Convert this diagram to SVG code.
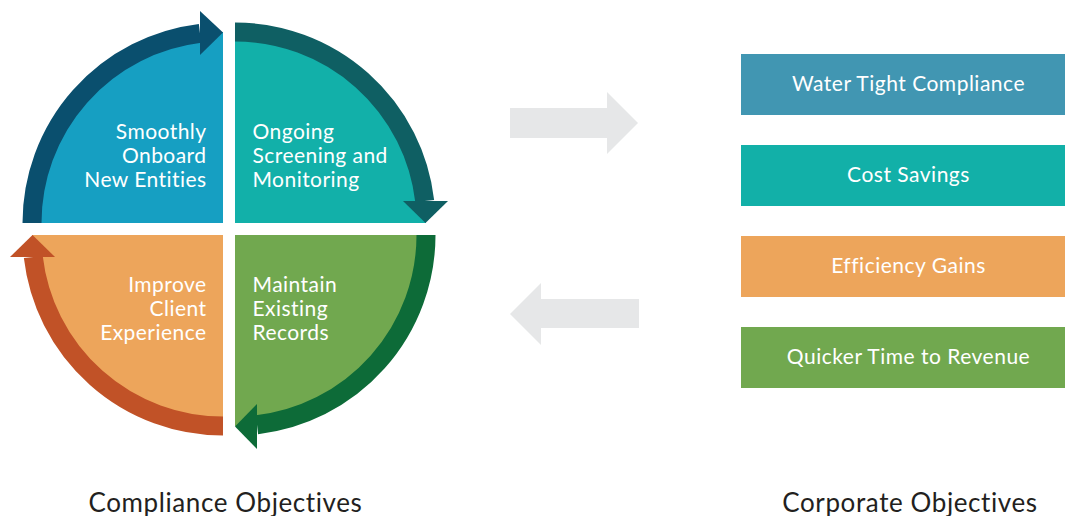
<svg xmlns="http://www.w3.org/2000/svg" width="1065" height="516" viewBox="0 0 1065 516">
<style>
.band{fill:none;stroke-width:19;stroke-linecap:butt}
.qt{font-family:Lato,"Liberation Sans",sans-serif;font-size:21px;letter-spacing:0.45px;fill:#fff}
.bt{font-family:Lato,"Liberation Sans",sans-serif;font-size:21px;letter-spacing:0.5px;fill:#fff;text-anchor:middle}
.cap{font-family:Lato,"Liberation Sans",sans-serif;font-size:26px;letter-spacing:0.6px;fill:#231F20;text-anchor:middle}
.gray{fill:#E6E7E8}
</style>
<rect width="1065" height="516" fill="#fff"/>
<g id="q-onboard">
<path d="M223,223 L32,223 A191,191 0 0 1 223,32 Z" fill="#169FC2"/>
<path class="band" stroke="#0A4F6E" d="M32,223 A191,191 0 0 1 200,33.4"/>
<polygon fill="#0A4F6E" points="200,11 223,32.5 200,55"/>
<text class="qt" text-anchor="end"><tspan x="206.5" y="138.5">Smoothly</tspan><tspan x="206.5" y="162.5">Onboard</tspan><tspan x="206.5" y="186.5">New Entities</tspan></text>
</g>
<g id="q-screening">
<path d="M235,223 L235,32 A191,191 0 0 1 426,223 Z" fill="#12B0A9"/>
<path class="band" stroke="#0F5F63" d="M235,32 A191,191 0 0 1 424.7,201"/>
<polygon fill="#0F5F63" points="403,201 448,201 425.5,223"/>
<text class="qt"><tspan x="252.5" y="138.5">Ongoing</tspan><tspan x="252.5" y="162.5">Screening and</tspan><tspan x="252.5" y="186.5">Monitoring</tspan></text>
</g>
<g id="q-maintain">
<path d="M235,235 L426,235 A191,191 0 0 1 235,426 Z" fill="#71A84F"/>
<path class="band" stroke="#0D6B38" d="M426,235 A191,191 0 0 1 257,424.7"/>
<polygon fill="#0D6B38" points="257,404 257,449 235,426.5"/>
<text class="qt"><tspan x="252.5" y="291.5">Maintain</tspan><tspan x="252.5" y="315.5">Existing</tspan><tspan x="252.5" y="339.5">Records</tspan></text>
</g>
<g id="q-client">
<path d="M223,235 L223,426 A191,191 0 0 1 32,235 Z" fill="#EDA55B"/>
<path class="band" stroke="#C15227" d="M223,426 A191,191 0 0 1 33.3,257"/>
<polygon fill="#C15227" points="10,257 55,257 32.5,235"/>
<text class="qt" text-anchor="end"><tspan x="206.5" y="291.5">Improve</tspan><tspan x="206.5" y="315.5">Client</tspan><tspan x="206.5" y="339.5">Experience</tspan></text>
</g>
<g id="connectors">
<polygon class="gray" points="510,108 607,108 607,92 638,123 607,154 607,138 510,138"/>
<polygon class="gray" points="639,299 541,299 541,283 510,314 541,345 541,328 639,328"/>
</g>
<g id="box-compliance">
<rect x="741" y="54" width="324" height="61" fill="#4196B2"/>
<text class="bt" x="908.5" y="91">Water Tight Compliance</text>
</g>
<g id="box-cost">
<rect x="741" y="145" width="324" height="61" fill="#12B0A8"/>
<text class="bt" x="908.5" y="182">Cost Savings</text>
</g>
<g id="box-efficiency">
<rect x="741" y="236" width="324" height="61" fill="#EDA55B"/>
<text class="bt" x="908.5" y="273">Efficiency Gains</text>
</g>
<g id="box-revenue">
<rect x="741" y="327" width="324" height="61" fill="#71A84F"/>
<text class="bt" x="908.5" y="364">Quicker Time to Revenue</text>
</g>
<text class="cap" x="225.5" y="512">Compliance Objectives</text>
<text class="cap" x="910" y="512">Corporate Objectives</text>
</svg>
